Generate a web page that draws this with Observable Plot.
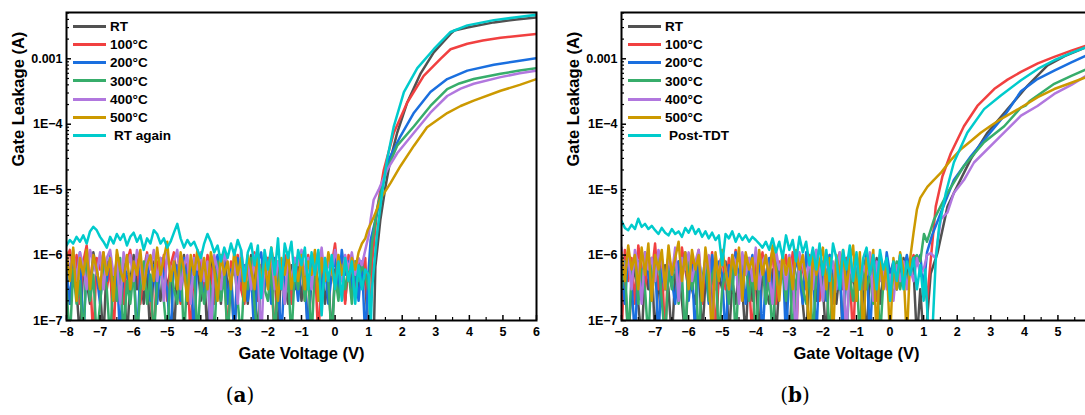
<!DOCTYPE html>
<html><head><meta charset="utf-8">
<script src="https://cdn.jsdelivr.net/npm/d3@7"></script>
<script src="https://cdn.jsdelivr.net/npm/@observablehq/plot@0.6"></script>
<style>
html,body{margin:0;padding:0;background:#fff;}
#wrap{position:relative;width:1085px;height:415px;overflow:hidden;font-family:"Liberation Sans",Arial,sans-serif;}
.panel{position:absolute;top:0;width:560px;}
.panel svg{max-width:none !important;}
.leg{position:absolute;font-weight:bold;font-size:13.5px;color:#000;line-height:18px;white-space:nowrap;}
.leg .sw{display:inline-block;width:33px;height:3px;vertical-align:middle;margin-right:4px;position:relative;top:-1px;}
.cap{position:absolute;top:383px;width:100px;text-align:center;font-family:"DejaVu Serif","Liberation Serif",serif;font-size:20px;line-height:24px;color:#000;}
</style></head>
<body>
<div id="wrap"></div>
<script>
// ---------- shared ----------
const seriesA = ["RT","100°C","200°C","300°C","400°C","500°C","RT again"];
const seriesB = ["RT","100°C","200°C","300°C","400°C","500°C","Post-TDT"];
const colors = ["#515151","#F14040","#1A6FDF","#37AD6B","#B177DE","#CC9900","#00CBCC"];
const xTicks = [-8,-7,-6,-5,-4,-3,-2,-1,0,1,2,3,4,5,6];
const xTickLabels = ["−8","−7","−6","−5","−4","−3","−2","−1","0","1","2","3","4","5","6"];
// panel (b) is cut at the right page edge: its last labelled tick is 5
const xTicksB = [-8,-7,-6,-5,-4,-3,-2,-1,0,1,2,3,4,5];
const xMinor = [-7.5,-6.5,-5.5,-4.5,-3.5,-2.5,-1.5,-0.5,0.5,1.5,2.5,3.5,4.5,5.5];
// current in µA
const yTicks = [0.1,1,10,100,1000];
const yTickLabels = ["1E−7","1E−6","1E−5","1E−4","0.001"];
const yMinor = [0.2,0.3,0.4,0.5,0.6,0.7,0.8,0.9,2,3,4,5,6,7,8,9,20,30,40,50,60,70,80,90,200,300,400,500,600,700,800,900,2000,3000,4000,5000];

// gate voltage of the noisy (sub-threshold) part, V
const vNoise = [
-8.0,-7.9,-7.8,-7.7,-7.6,-7.5,-7.4,-7.3,-7.2,-7.1,
-7.0,-6.9,-6.8,-6.7,-6.6,-6.5,-6.4,-6.3,-6.2,-6.1,
-6.0,-5.9,-5.8,-5.7,-5.6,-5.5,-5.4,-5.3,-5.2,-5.1,
-5.0,-4.9,-4.8,-4.7,-4.6,-4.5,-4.4,-4.3,-4.2,-4.1,
-4.0,-3.9,-3.8,-3.7,-3.6,-3.5,-3.4,-3.3,-3.2,-3.1,
-3.0,-2.9,-2.8,-2.7,-2.6,-2.5,-2.4,-2.3,-2.2,-2.1,
-2.0,-1.9,-1.8,-1.7,-1.6,-1.5,-1.4,-1.3,-1.2,-1.1,
-1.0,-0.9,-0.8,-0.7,-0.6,-0.5,-0.4,-0.3,-0.2,-0.1,
0.0,0.1,0.2,0.3,0.4,0.5,0.6,0.7,0.8,0.9];

// ---------- panel (a) ----------
const a_RT_noise = [
0.5,0.18,0.9,0.3,0.05,0.7,0.4,0.18,1.1,0.6,
0.3,0.05,0.8,0.5,0.2,0.9,0.18,0.6,0.05,0.4,
1.0,0.3,0.7,0.18,0.5,0.05,0.8,0.4,0.2,0.9,
0.3,0.6,0.05,0.7,0.4,1.0,0.18,0.5,0.3,0.8,
0.2,0.6,0.05,0.9,0.4,0.7,0.18,1.2,0.3,0.5,
0.05,0.8,0.3,0.6,0.18,1.0,0.4,0.05,0.7,0.3,
0.9,0.2,0.6,0.05,0.8,0.4,0.18,0.7,0.3,1.0,
0.2,0.6,0.05,0.5,0.9,0.3,0.7,0.18,0.5,0.05,
0.6,0.3,0.9,0.2,0.7,0.4,0.8,0.3,0.6,0.4];
const a_RT_riseV = [1.0,1.1,1.16,1.2,1.35,1.5,1.65,1.85,2.15,2.55,2.94,3.44,3.55,3.94,4.73,5.4,6.0];
const a_RT_riseI = [0.05,0.05,0.08,0.66,3.5,11,29,74,215,600,1250,2400,2700,3000,3600,4000,4300];

const a_100_noise = [
0.9,1.2,0.4,1.0,0.18,0.8,1.4,0.5,0.05,0.9,
0.6,1.1,0.3,0.7,0.05,1.0,0.5,0.18,0.8,1.2,
0.4,0.9,0.18,0.6,1.1,0.3,0.05,0.8,0.5,1.0,
0.2,0.7,1.1,0.4,0.18,0.9,0.6,0.05,1.0,0.5,
0.8,0.3,1.0,0.6,0.18,0.9,0.4,0.7,0.05,0.8,
0.5,1.0,0.3,0.18,0.8,0.6,1.1,0.2,0.7,0.4,
0.9,0.5,0.05,0.8,0.3,1.0,0.6,0.18,0.9,0.4,
0.7,0.2,1.0,0.5,0.8,0.05,0.6,0.9,0.3,0.7,
1.5,0.4,0.9,0.18,1.0,0.6,0.3,0.8,0.5,0.9];
const a_100_riseV = [1.0,1.05,1.11,1.25,1.45,1.75,2.15,2.64,3.14,3.44,3.94,4.4,4.93,5.5,6.0];
const a_100_riseI = [0.05,0.1,0.83,4.9,20,74,215,550,1000,1400,1700,1900,2100,2250,2400];

const a_200_noise = [
0.6,0.18,0.9,0.4,1.1,0.05,0.7,0.3,0.9,0.5,
0.18,0.8,0.4,1.0,0.2,0.6,0.05,0.9,0.5,0.3,
0.8,0.05,0.6,0.4,1.0,0.2,0.7,0.18,0.9,0.5,
0.3,0.05,0.8,0.6,0.2,0.9,0.4,0.7,0.05,1.0,
0.5,0.2,0.7,0.05,0.6,1.0,0.3,0.8,0.18,0.6,
0.05,0.9,0.4,0.7,0.2,0.5,0.05,0.8,1.1,0.3,
0.6,0.18,0.9,0.4,0.05,0.7,1.0,0.3,0.6,0.2,
0.8,0.4,0.05,0.9,0.6,1.1,0.3,0.7,0.18,0.5,
0.9,0.3,1.2,0.5,0.8,0.3,0.6,0.2,0.8,0.05];
const a_200_riseV = [1.0,1.06,1.25,1.4,1.6,1.95,2.35,2.84,3.34,3.94,4.73,5.4,6.0];
const a_200_riseI = [0.6,1.7,4.4,11,29,66,150,310,490,660,810,920,1020];

const a_300_noise = [
0.3,0.05,0.6,0.18,0.4,0.05,0.8,0.2,0.5,0.05,
0.18,0.7,0.3,0.05,0.5,0.2,0.9,0.05,0.4,0.18,
0.6,0.05,0.3,0.8,0.18,0.5,0.05,0.4,0.7,0.2,
0.05,0.6,0.3,0.18,0.9,0.05,0.5,0.2,0.7,0.05,
0.4,0.18,0.6,0.3,0.05,0.8,0.2,0.5,0.05,0.4,
0.7,0.2,0.05,0.5,0.3,0.9,0.18,0.05,0.6,0.3,
0.2,0.7,0.05,0.4,0.8,0.18,0.5,0.05,0.6,0.3,
0.9,0.2,0.5,0.05,0.7,0.3,0.18,0.6,0.4,0.05,
0.5,0.2,0.7,0.3,0.6,0.18,0.8,0.4,0.7,0.5];
const a_300_riseV = [1.0,1.1,1.25,1.5,1.85,2.35,2.84,3.34,3.7,4.13,4.93,5.5,6.0];
const a_300_riseI = [0.3,1.5,5,18,47,93,190,345,420,490,590,660,720];

const a_400_noise = [
1.0,0.6,1.2,0.4,1.1,0.7,0.3,1.2,0.8,0.5,
1.1,0.3,0.9,1.2,0.5,0.8,0.18,1.1,0.6,1.0,
0.4,1.2,0.7,0.3,1.0,0.6,1.2,0.4,0.9,0.2,
1.1,0.5,0.8,1.2,0.3,0.7,1.0,0.18,0.9,0.6,
1.1,0.4,0.8,0.05,1.0,0.6,0.3,1.1,0.7,0.4,
0.9,0.18,1.2,0.5,0.8,0.3,1.0,0.6,0.05,0.9,
0.5,1.1,0.3,0.8,0.6,0.18,1.0,0.4,0.9,0.7,
1.2,0.5,0.9,0.3,1.1,0.6,1.3,0.4,0.8,0.5,
1.2,0.7,0.4,1.0,0.6,1.1,0.5,0.9,0.7,1.2];
const a_400_riseV = [1.0,1.06,1.15,1.3,1.55,1.85,2.35,2.84,3.34,3.74,4.13,4.93,5.5,6.0];
const a_400_riseI = [2.0,3.5,7,10,20,36,74,150,270,350,415,525,600,660];

const a_500_noise = [
1.1,0.4,1.3,0.2,0.9,0.5,1.2,0.3,1.0,0.6,
0.3,1.1,0.5,0.9,0.2,1.2,0.6,0.4,1.0,0.3,
0.8,0.5,1.2,0.3,0.7,1.0,0.4,1.3,0.5,0.9,
1.6,0.4,0.8,0.3,1.1,0.6,0.2,1.0,0.5,1.2,
0.4,0.9,0.3,1.1,0.6,0.2,1.0,0.5,0.8,0.3,
1.2,0.5,0.9,0.2,1.0,0.6,0.3,1.1,0.4,0.8,
0.3,1.3,0.6,0.2,0.9,0.5,1.1,0.3,0.7,0.4,
1.0,0.3,0.8,0.5,1.2,0.2,0.9,0.4,1.1,0.6,
0.3,1.0,0.5,0.8,0.4,0.9,0.6,1.1,1.5,1.8];
const a_500_riseV = [0.97,1.16,1.4,1.65,1.95,2.35,2.74,3.34,3.74,4.13,4.93,5.5,6.0];
const a_500_riseI = [2.4,3.9,7.9,12.6,23,47,90,148,190,230,325,400,490];

const a_RTagain_noise = [
1.4,1.7,1.5,1.9,1.6,2.0,1.5,2.3,2.7,2.4,
1.9,1.6,1.3,1.9,1.5,2.1,1.7,2.1,1.4,1.9,
2.2,1.6,2.0,1.2,1.8,1.5,2.4,2.1,1.5,1.8,
1.3,1.6,2.2,3.0,1.8,1.3,1.7,1.4,1.6,1.2,
0.9,1.5,2.1,1.6,1.1,1.4,0.8,1.3,0.9,1.5,
1.0,1.7,1.2,0.4,1.1,1.5,0.7,1.4,0.22,1.2,
0.6,1.3,0.5,1.8,0.3,1.5,0.9,1.6,0.4,1.2,
0.7,1.3,0.3,1.1,0.5,1.2,0.12,0.9,0.4,1.0,
0.3,0.8,0.2,0.9,0.4,0.8,0.18,0.7,0.3,0.6];
const a_RTagain_riseV = [1.0,1.05,1.1,1.25,1.4,1.55,1.75,2.05,2.45,2.94,3.44,3.94,4.73,5.4,6.0];
const a_RTagain_riseI = [0.5,0.05,0.3,2.1,8.9,29,93,310,720,1400,2570,3240,3900,4300,4700];

// ---------- panel (b) ----------
const b_RT_noise = [
0.18,0.5,0.05,0.3,0.7,0.18,0.05,0.6,0.3,0.9,
0.05,0.4,0.18,0.7,0.3,0.05,0.5,0.8,0.2,0.05,
0.6,0.3,0.18,0.9,0.05,0.4,0.7,0.2,0.05,0.5,
0.3,0.8,0.05,0.4,0.18,0.6,0.3,0.05,0.9,0.2,
0.5,0.05,0.7,0.3,0.18,0.6,0.05,0.4,0.8,0.2,
0.05,0.5,0.3,0.9,0.18,0.05,0.6,0.4,0.2,0.7,
0.3,0.05,0.8,0.4,0.18,0.6,0.05,0.9,0.3,0.5,
0.2,0.7,0.4,0.05,0.6,0.3,0.9,0.18,0.5,0.8,
0.4,0.7,0.3,0.6,0.9,0.5,0.8,0.6,0.05,0.3];
const b_RT_riseV = [1.0,1.1,1.21,1.41,1.71,1.9,2.4,2.9,3.5,4.1,4.69,5.2,5.84,6.0];
const b_RT_riseI = [0.05,0.1,0.52,1.07,5.5,8.9,29,74,170,390,790,1100,1500,1600];

const b_100_noise = [
0.05,1.2,0.4,0.9,0.18,1.4,0.6,0.3,1.0,0.5,
1.5,0.3,0.8,0.05,1.1,0.5,0.9,0.2,1.3,0.6,
0.3,1.0,0.5,1.2,0.18,0.8,0.4,1.1,0.05,0.7,
1.0,0.3,0.9,0.5,1.2,0.2,0.7,1.0,0.4,0.05,
0.9,0.5,1.1,0.3,0.7,1.2,0.18,0.8,0.5,1.0,
0.4,1.1,0.05,0.9,0.6,0.3,1.0,0.5,1.2,0.2,
0.8,0.4,1.0,0.18,0.7,1.1,0.3,0.9,0.5,0.05,
1.0,0.6,0.3,1.1,0.4,0.8,0.2,1.0,0.6,0.9,
0.3,0.8,0.5,1.0,0.4,0.9,0.7,1.0,0.8,0.6];
const b_100_riseV = [1.0,1.1,1.21,1.36,1.56,1.81,2.2,2.6,3.1,3.5,3.9,4.4,4.89,5.4,5.84,6.0];
const b_100_riseI = [0.4,0.2,0.83,5.5,16,36,93,190,345,480,630,850,1070,1330,1590,1700];

const b_200_noise = [
0.6,0.18,1.0,0.4,0.05,0.8,0.3,1.1,0.5,0.2,
0.9,0.05,0.6,0.3,1.0,0.4,0.18,0.8,0.5,1.1,
0.2,0.7,0.05,0.9,0.4,0.6,0.18,1.0,0.3,0.8,
0.5,0.05,0.7,0.3,1.1,0.4,0.9,0.18,0.6,1.0,
0.3,0.8,0.05,0.5,0.9,0.2,0.7,0.4,1.0,0.05,
0.6,0.3,0.9,0.5,0.18,1.1,0.4,0.7,0.05,0.8,
0.5,0.2,1.0,0.6,0.3,0.9,0.05,0.7,1.1,0.4,
0.8,0.3,0.6,1.0,0.05,0.7,0.4,0.9,0.3,1.1,
0.5,0.8,0.3,0.9,0.6,1.0,0.5,0.9,0.7,1.0];
const b_200_riseV = [1.0,1.1,1.25,1.51,1.9,2.4,2.9,3.45,3.9,4.39,4.89,5.4,5.84,6.0];
const b_200_riseI = [0.3,1.1,2.0,4.4,14,32,66,145,320,490,660,880,1120,1200];

const b_300_noise = [
0.3,0.8,0.05,0.5,1.0,0.18,0.6,0.3,0.05,0.7,
0.4,0.9,0.2,0.05,0.6,0.3,1.0,0.18,0.5,0.05,
0.8,0.3,0.6,0.05,0.4,0.9,0.2,0.5,0.7,0.05,
0.3,0.6,0.18,0.8,0.05,0.5,0.3,0.9,0.2,0.6,
0.05,0.4,0.7,0.18,0.5,0.05,0.8,0.3,0.6,0.2,
0.9,0.05,0.4,0.7,0.3,0.18,0.6,0.05,0.5,0.8,
0.2,0.6,0.05,0.4,0.9,0.3,0.7,0.05,0.5,0.2,
0.6,0.05,0.8,0.3,0.5,0.18,0.7,0.05,0.4,0.6,
0.2,0.5,0.8,0.3,0.6,0.4,0.7,0.9,1.0,0.8];
const b_300_riseV = [1.01,1.1,1.31,1.5,1.71,2.2,2.8,3.4,3.9,4.05,4.15,4.89,5.4,5.84,6.0];
const b_300_riseI = [2.1,1.6,3.5,5.5,8.9,23,53,93,180,195,225,415,550,690,740];

const b_400_noise = [
1.3,0.5,1.0,0.3,1.2,0.7,0.18,1.1,0.6,0.9,
0.4,1.2,0.8,0.3,1.0,0.5,1.3,0.2,0.9,0.6,
1.1,0.4,0.8,1.2,0.3,0.7,1.0,0.05,0.9,0.5,
1.2,0.6,0.3,1.0,0.8,0.18,1.1,0.5,0.9,0.4,
1.3,0.3,0.8,1.0,0.5,0.18,1.2,0.6,0.9,0.3,
1.0,0.5,0.05,1.1,0.7,0.4,0.9,0.3,1.2,0.6,
0.2,1.0,0.5,0.8,0.3,1.1,0.6,0.05,0.9,0.4,
1.0,0.3,0.7,0.5,1.1,0.2,0.8,0.4,0.6,0.3,
0.5,0.2,0.7,0.4,0.8,0.3,0.6,0.4,0.9,0.5];
const b_400_riseV = [1.0,1.1,1.21,1.35,1.51,1.71,1.9,2.2,2.5,3.2,3.9,4.39,4.89,5.4,5.84,6.0];
const b_400_riseI = [0.6,1.0,1.07,0.9,3.5,4.5,8.9,14,26,59,135,190,290,400,550,600];

const b_500_noise = [
1.1,0.4,1.4,0.6,1.0,0.3,1.3,0.5,1.5,0.2,
1.0,0.6,1.2,0.3,1.4,0.5,0.9,1.6,0.4,1.1,
0.3,1.2,0.6,1.0,0.2,1.3,0.5,0.05,1.1,0.4,
1.2,0.6,0.3,1.0,0.5,1.3,0.2,1.1,0.6,0.9,
0.3,1.2,0.5,1.0,0.4,1.4,0.6,0.2,1.1,0.5,
0.9,0.3,1.2,0.6,1.0,0.4,0.05,1.1,0.5,0.8,
1.3,0.3,0.9,0.05,1.0,0.5,1.2,0.3,0.8,1.4,
0.2,1.1,0.05,0.9,0.5,1.2,0.05,1.0,0.3,0.8,
0.05,0.9,0.3,1.1,0.6,0.05,0.9,2.2,5.0,7.5];
const b_500_riseV = [1.0,1.11,1.3,1.51,1.8,2.1,2.4,2.7,3.0,3.3,3.9,4.4,4.89,5.4,5.84,6.0];
const b_500_riseI = [9,11,14,18,28,41,55,74,95,120,180,260,345,430,525,560];

const b_post_noise = [
3.3,2.6,2.4,2.9,2.5,3.6,2.7,3.0,2.5,2.8,
2.4,2.1,2.6,2.2,2.0,2.5,2.1,2.3,1.9,2.6,
2.2,2.8,2.1,2.5,1.9,2.3,1.8,2.2,1.7,2.0,
0.7,2.1,1.8,2.3,1.6,2.1,1.7,2.0,1.6,1.9,
1.7,1.5,1.3,1.6,1.2,1.8,1.1,1.6,0.9,2.0,
1.2,1.7,0.8,1.9,1.1,1.6,0.7,1.3,0.6,1.5,
0.5,1.2,0.4,1.5,0.9,0.3,1.2,0.6,1.4,0.4,
1.1,0.3,0.9,1.3,0.5,1.0,0.3,1.2,0.6,0.9,
0.2,0.8,0.4,1.0,0.3,0.8,0.5,0.9,0.3,0.7];
const b_post_riseV = [1.0,1.05,1.15,1.25,1.36,1.46,1.66,1.9,2.3,2.8,3.3,3.9,4.4,4.89,5.4,5.84,6.0];
const b_post_riseI = [0.2,0.6,0.05,0.05,0.83,2.7,8.9,26,74,170,275,470,700,950,1230,1500,1600];

// ---------- build ----------
function series(noise, riseV, riseI) {
  return vNoise.map((v, k) => ({v, i: noise[k]}))
    .concat(riseV.map((v, k) => ({v, i: riseI[k]})));
}
const panelA = [
  series(a_RT_noise, a_RT_riseV, a_RT_riseI),
  series(a_100_noise, a_100_riseV, a_100_riseI),
  series(a_200_noise, a_200_riseV, a_200_riseI),
  series(a_300_noise, a_300_riseV, a_300_riseI),
  series(a_400_noise, a_400_riseV, a_400_riseI),
  series(a_500_noise, a_500_riseV, a_500_riseI),
  series(a_RTagain_noise, a_RTagain_riseV, a_RTagain_riseI)
];
const panelB = [
  series(b_RT_noise, b_RT_riseV, b_RT_riseI),
  series(b_100_noise, b_100_riseV, b_100_riseI),
  series(b_200_noise, b_200_riseV, b_200_riseI),
  series(b_300_noise, b_300_riseV, b_300_riseI),
  series(b_400_noise, b_400_riseV, b_400_riseI),
  series(b_500_noise, b_500_riseV, b_500_riseI),
  series(b_post_noise, b_post_riseV, b_post_riseI)
];

function makePlot(data, labelTicks) {
  const tickFont = {fontSize: 12.5, fontWeight: "bold", fill: "#000"};
  return Plot.plot({
    width: 560, height: 370,
    marginLeft: 66, marginRight: 24, marginTop: 12, marginBottom: 50,
    style: {fontFamily: "'Liberation Sans', Arial, sans-serif", color: "#000", background: "transparent", overflow: "visible", maxWidth: "none"},
    x: {domain: [-8, 6], label: null},
    y: {type: "log", domain: [0.1, 5100], label: null},
    marks: [
      ...data.map((d, k) => Plot.line(d, {x: "v", y: "i", stroke: colors[k], strokeWidth: 2.5, clip: true, curve: "linear"})),
      Plot.frame({stroke: "#000", strokeWidth: 2}),
      // x axis: labels, inward major & minor ticks
      Plot.axisX({ticks: labelTicks, tickSize: 0, tickPadding: 7, label: null, tickFormat: d => xTickLabels[xTicks.indexOf(d)], ...tickFont}),
      Plot.axisX({ticks: xTicks, tickSize: 5, dy: -5, label: null, tickFormat: () => "", strokeWidth: 1.5}),
      Plot.axisX({ticks: xMinor, tickSize: 3, dy: -3, label: null, tickFormat: () => "", strokeWidth: 1.2}),
      // y axis
      Plot.axisY({ticks: yTicks, tickSize: 0, tickPadding: 4, label: null, tickFormat: d => yTickLabels[yTicks.indexOf(d)], ...tickFont}),
      Plot.axisY({ticks: yTicks, tickSize: 5, dx: 5, label: null, tickFormat: () => "", strokeWidth: 1.5}),
      Plot.axisY({ticks: yMinor, tickSize: 3, dx: 3, label: null, tickFormat: () => "", strokeWidth: 1.2}),
      Plot.text(["Gate Voltage (V)"], {text: d => d, frameAnchor: "bottom", dy: 38, fontSize: 16.5, fontWeight: "bold", fill: "#000"}),
      Plot.text(["Gate Leakage (A)"], {text: d => d, frameAnchor: "left", dx: -48, rotate: -90, fontSize: 16.5, fontWeight: "bold", fill: "#000"})
    ]
  });
}

const wrap = document.getElementById("wrap");
function addPanel(data, names, labelTicks, left, cap, capCenter) {
  const div = document.createElement("div");
  div.className = "panel";
  div.style.left = left + "px";
  div.appendChild(makePlot(data, labelTicks));
  wrap.appendChild(div);
  names.forEach((n, k) => {
    const row = document.createElement("div");
    row.className = "leg";
    row.style.left = (left + 73) + "px";
    row.style.top = (27 + 18.17 * k - 9) + "px";
    const sw = document.createElement("span");
    sw.className = "sw";
    sw.style.background = colors[k];
    row.appendChild(sw);
    const t = document.createElement("span");
    t.textContent = n;
    if (k === 6) t.style.marginLeft = "4px";
    row.appendChild(t);
    wrap.appendChild(row);
  });
  const c = document.createElement("div");
  c.className = "cap";
  c.style.left = (capCenter - 50) + "px";
  c.innerHTML = "(<b>" + cap + "</b>)";
  wrap.appendChild(c);
}
addPanel(panelA, seriesA, xTicks, 0, "a", 240);
addPanel(panelB, seriesB, xTicksB, 555, "b", 795);
</script>
</body></html>
